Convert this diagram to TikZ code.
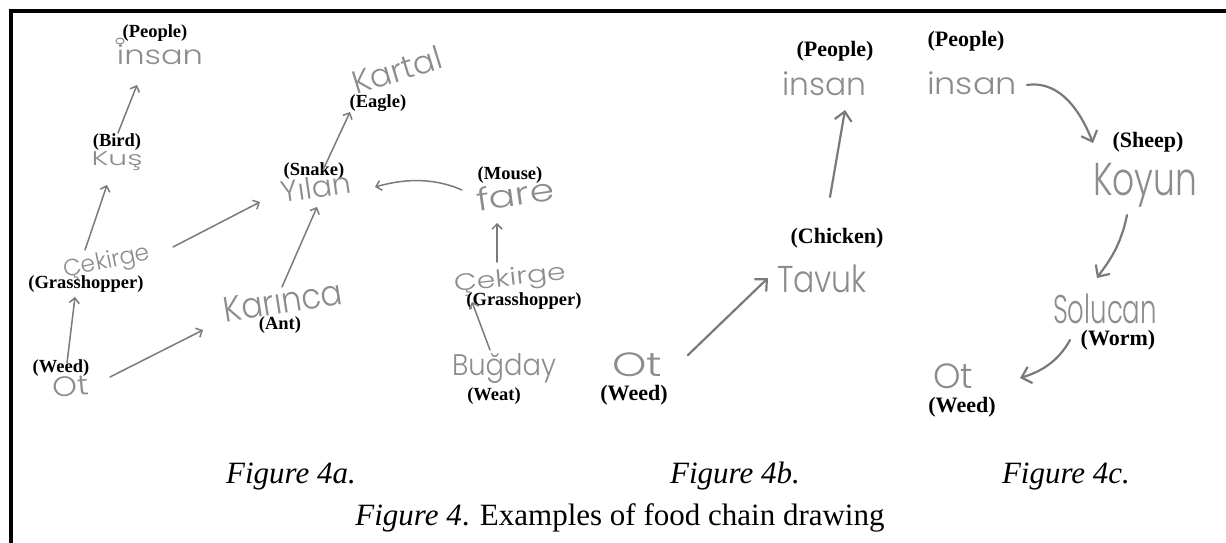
\documentclass[tikz,border=0pt]{standalone}
\usepackage{fontspec}
\usepackage{graphicx}
\setmainfont{Liberation Serif}
\usetikzlibrary{arrows.meta}
% thin round sans for the handwritten words
\IfFontExistsTF{Poppins Light}{\newfontfamily\handfont{Poppins Light}}{%
  \IfFontExistsTF{Fira Sans Light}{\newfontfamily\handfont{Fira Sans Light}}{%
    \newfontfamily\handfont{DejaVu Sans}}}
% handwritten word stretched to a given width and total height (pt)
\newcommand{\hw}[3]{\resizebox*{#1pt}{#2pt}{\handfont\fontsize{20}{20}\selectfont #3}}
\definecolor{handgray}{RGB}{140,140,140}
\definecolor{arrgray}{RGB}{122,122,122}
\tikzset{
  lblA/.style={font=\fontsize{18.5}{18.5}\selectfont\bfseries, inner sep=0pt},
  lblB/.style={font=\fontsize{22}{22}\selectfont\bfseries, inner sep=0pt},
  hand/.style={text=handgray, inner sep=0pt},
  arrA/.style={draw=arrgray, line width=1.5pt, line cap=round,
    -{Straight Barb[length=5pt,width=10pt]}},
  arrB/.style={draw=arrgray, line width=2.2pt, line cap=round,
    -{Straight Barb[length=9pt,width=17pt]}},
  figcap/.style={font=\fontsize{31}{31}\selectfont, inner sep=0pt, anchor=base},
}
\begin{document}
\begin{tikzpicture}[x=1pt, y=-1pt]
\useasboundingbox (0,0) rectangle (1226,543);
% frame
\draw[line width=4pt] (11,543) -- (11,11) -- (1226,11);

% ---------- Figure 4a ----------
\node[lblA] (pplA) at (155,33) {(People)};
\node[hand] (insanA) at (160,55) {\hw{86}{20}{insan}};
\draw[handgray, line width=1pt] (120,41) ellipse [x radius=4, y radius=3];
\node[lblA] (bird) at (117,142) {(Bird)};
\node[hand] (kus) at (117,161) {\hw{51}{19}{Kuş}};
\node[hand, rotate=12] (cekA) at (107,263) {\hw{88}{24}{Çekirge}};
\node[lblA] (grassA) at (86,284) {(Grasshopper)};
\node[lblA] (weedA) at (61,368) {(Weed)};
\node[hand, rotate=5] (otA) at (71,386) {\hw{36}{20}{Ot}};
\node[hand, rotate=9] (karinca) at (283,301) {\hw{120}{25}{Karınca}};
\node[lblA] (ant) at (280,325) {(Ant)};
\node[lblA] (snake) at (314,171) {(Snake)};
\node[hand, rotate=8] (yilan) at (316,187) {\hw{70}{22}{Yılan}};
\node[hand, rotate=17] (kartal) at (397,70) {\hw{92}{24}{Kartal}};
\node[lblA] (eagle) at (378,103) {(Eagle)};
\node[lblA] (mouse) at (510,175) {(Mouse)};
\node[hand, rotate=8] (fare) at (515,194) {\hw{78}{24}{fare}};
\node[hand, rotate=6] (cekB) at (510,280) {\hw{112}{24}{Çekirge}};
\node[lblA] (grassB) at (524,301) {(Grasshopper)};
\node[hand] (bugday) at (504,368) {\hw{104}{30}{Buğday}};
\node[lblA] (weat) at (494,396) {(Weat)};

\draw[arrA] ([shift={(1,-28)}]kus.center) -- ([shift={(-23,30)}]insanA.center);
\draw[arrA] ([shift={(-22,-13)}]cekA.center) -- ([shift={(-10,24)}]kus.center);
\draw[arrA] ([shift={(-4,-23)}]otA.center) -- ([shift={(-32,34)}]cekA.center);
\draw[arrA] ([shift={(39,-9)}]otA.center) -- ([shift={(-80,29)}]karinca.center);
\draw[arrA] ([shift={(66,-16)}]cekA.center) -- ([shift={(-56,15)}]yilan.center);
\draw[arrA] ([shift={(-1,-14)}]karinca.center) -- ([shift={(1,20)}]yilan.center);
\draw[arrA] ([shift={(7,-17)}]yilan.center) -- ([shift={(-47,42)}]kartal.center);
\draw[arrA] ([shift={(-53,-4)}]fare.center) .. controls (430,176) and (400,180) .. ([shift={(59,0)}]yilan.center);
\draw[arrA] ([shift={(-13,-18)}]cekB.center) -- ([shift={(-18,29)}]fare.center);
\draw[arrA] ([shift={(-14,-18)}]bugday.center) -- ([shift={(-38,22)}]cekB.center);

% ---------- Figure 4b ----------
\node[lblB] (pplB) at (835,51) {(People)};
\node[hand] (insanB) at (824,84) {\hw{84}{24}{insan}};
\node[lblB] (chicken) at (837,238) {(Chicken)};
\node[hand] (tavuk) at (822,279) {\hw{90}{28}{Tavuk}};
\node[hand] (otB) at (637,365) {\hw{50}{24}{Ot}};
\node[lblB] (weedB) at (634,395) {(Weed)};

\draw[arrB] ([shift={(8,-82)}]tavuk.center) -- ([shift={(21,26)}]insanB.center);
\draw[arrB] ([shift={(51,-10)}]otB.center) -- ([shift={(-54,-1)}]tavuk.center);

% ---------- Figure 4c ----------
\node[lblB] (pplC) at (966,41) {(People)};
\node[hand] (insanC) at (972,83) {\hw{90}{23}{insan}};
\node[lblB] (sheep) at (1148,142) {(Sheep)};
\node[hand] (koyun) at (1145,185) {\hw{104}{44}{Koyun}};
\node[hand] (solucan) at (1105,309) {\hw{104}{30}{Solucan}};
\node[lblB] (worm) at (1118,340) {(Worm)};
\node[hand] (otC) at (953,376) {\hw{40}{25}{Ot}};
\node[lblB] (weedC) at (962,407) {(Weed)};

\draw[arrB] ([shift={(55,2)}]insanC.center) .. controls (1062,80) and (1082,115) .. ([shift={(-52,-42)}]koyun.center);
\draw[arrB] ([shift={(-18,30)}]koyun.center) .. controls (1120,250) and (1105,266) .. ([shift={(-8,-31)}]solucan.center);
\draw[arrB] ([shift={(-35,31)}]solucan.center) .. controls (1058,362) and (1040,372) .. ([shift={(67,2)}]otC.center);

% ---------- captions ----------
\node[figcap] (capA) at (291,483) {\textit{Figure 4a.}};
\node[figcap] (capB) at (735,483) {\textit{Figure 4b.}};
\node[figcap] (capC) at (1066,483) {\textit{Figure 4c.}};
\node[figcap] (capMain) at (620,525) {\textit{Figure 4}. Examples of food chain drawing};
\end{tikzpicture}
\end{document}
